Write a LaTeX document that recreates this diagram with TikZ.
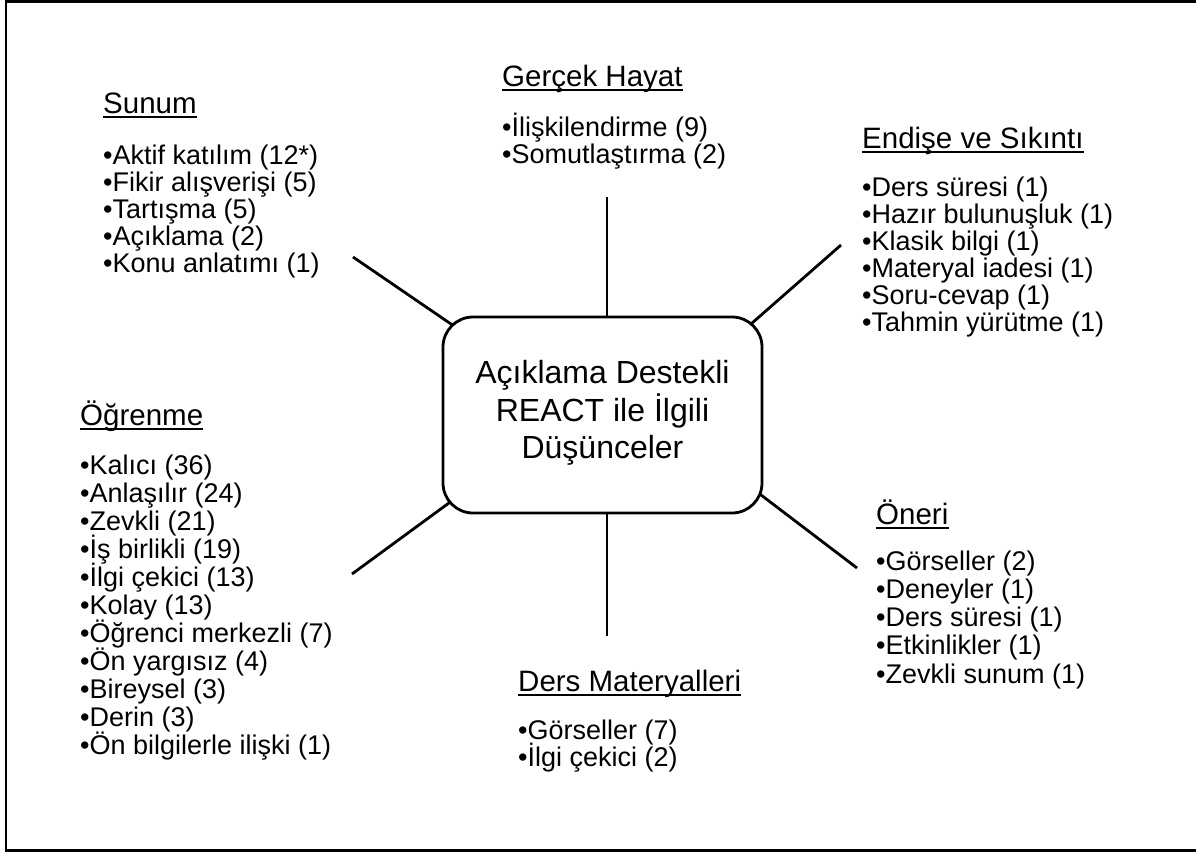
\documentclass[tikz,border=0pt]{standalone}
\usepackage{fontspec}
\setmainfont{Liberation Sans}
\usetikzlibrary{backgrounds}
\begin{document}
\begin{tikzpicture}[x=1pt,y=-1pt,
  head/.style={anchor=base west, inner sep=0pt, font=\fontsize{29.5}{34}\selectfont},
  item/.style={anchor=base west, inner sep=0pt, font=\fontsize{27}{30}\selectfont},
  ctext/.style={anchor=base, inner sep=0pt, font=\fontsize{32}{38}\selectfont},
  spoke/.style={line width=2.8pt},
  uline/.style={line width=2pt},
  frame/.style={line width=2.5pt}]
\useasboundingbox (0,0) rectangle (1196,852);
\draw[frame] (1197,1.3) -- (6,1.3) -- (6,850.5) -- (1197,850.5);

% centre box
\node[draw, line width=2.8pt, rounded corners=30pt, fill=white,
      minimum width=319pt, minimum height=196pt, inner sep=0pt] (c) at (602.5,415) {};
\node[ctext] (c1) at (602.5,383) {Açıklama Destekli};
\node[ctext] (c2) at (602.5,421) {REACT ile İlgili};
\node[ctext] (c3) at (602.5,458) {Düşünceler};

% spokes
\coordinate (to) at (607,197);  \coordinate (ti) at (607,330);
\coordinate (bo) at (607,636);  \coordinate (bi) at (607,500);
\coordinate (ulo) at (353,257); \coordinate (uli) at (470,337);
\coordinate (uro) at (841,245); \coordinate (uri) at (735,338);
\coordinate (llo) at (352,574); \coordinate (lli) at (468,489);
\coordinate (lro) at (857,568); \coordinate (lri) at (740,479);
\begin{scope}[on background layer]
  \draw[spoke] (to) -- (ti);
  \draw[spoke] (bo) -- (bi);
  \draw[spoke] (ulo) -- (uli);
  \draw[spoke] (uro) -- (uri);
  \draw[spoke] (llo) -- (lli);
  \draw[spoke] (lro) -- (lri);
\end{scope}

% Sunum
\node[head] (hs) at (103,113) {Sunum};
\draw[uline] ([yshift=-4pt]hs.base west) -- ([yshift=-4pt]hs.base east);
\foreach \t [count=\i from 0] in {Aktif katılım (12*),Fikir alışverişi (5),Tartışma (5),Açıklama (2),Konu anlatımı (1)}
  \node[item] (s\i) at (103,{164+27*\i}) {•\t};

% Gerçek Hayat
\node[head] (hg) at (502,86) {Gerçek Hayat};
\draw[uline] ([yshift=-4pt]hg.base west) -- ([yshift=-4pt]hg.base east);
\foreach \t [count=\i from 0] in {İlişkilendirme (9),Somutlaştırma (2)}
  \node[item] (g\i) at (502,{136+27*\i}) {•\t};

% Endişe ve Sıkıntı
\node[head] (he) at (862,148) {Endişe ve Sıkıntı};
\draw[uline] ([yshift=-4pt]he.base west) -- ([yshift=-4pt]he.base east);
\foreach \t [count=\i from 0] in {Ders süresi (1),Hazır bulunuşluk (1),Klasik bilgi (1),Materyal iadesi (1),Soru-cevap (1),Tahmin yürütme (1)}
  \node[item] (e\i) at (862,{196+27*\i}) {•\t};

% Öğrenme
\node[head] (ho) at (80,425) {Öğrenme};
\draw[uline] ([yshift=-4pt]ho.base west) -- ([yshift=-4pt]ho.base east);
\foreach \t [count=\i from 0] in {Kalıcı (36),Anlaşılır (24),Zevkli (21),İş birlikli (19),İlgi çekici (13),Kolay (13),Öğrenci merkezli (7),Ön yargısız (4),Bireysel (3),Derin (3),Ön bilgilerle ilişki (1)}
  \node[item] (o\i) at (80,{474+28*\i}) {•\t};

% Öneri
\node[head] (hn) at (876,524) {Öneri};
\draw[uline] ([yshift=-4pt]hn.base west) -- ([yshift=-4pt]hn.base east);
\foreach \t [count=\i from 0] in {Görseller (2),Deneyler (1),Ders süresi (1),Etkinlikler (1),Zevkli sunum (1)}
  \node[item] (n\i) at (876,{570+28.3*\i}) {•\t};

% Ders Materyalleri
\node[head] (hd) at (518,691) {Ders Materyalleri};
\draw[uline] ([yshift=-4pt]hd.base west) -- ([yshift=-4pt]hd.base east);
\foreach \t [count=\i from 0] in {Görseller (7),İlgi çekici (2)}
  \node[item] (d\i) at (518,{739+27*\i}) {•\t};
\end{tikzpicture}
\end{document}
